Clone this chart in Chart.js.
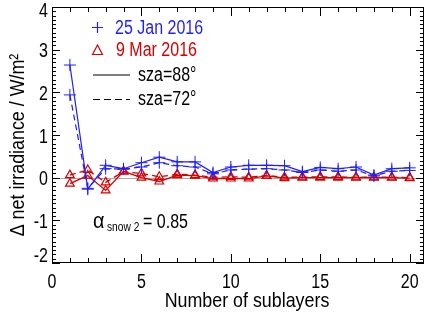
<!DOCTYPE html>
<html>
<head>
<meta charset="utf-8">
<script src="https://cdn.jsdelivr.net/npm/chart.js@4.4.1/dist/chart.umd.min.js"></script>
<style>
  html, body { margin: 0; padding: 0; background: #fff; }
  #wrap { width: 431px; height: 315px; }
</style>
</head>
<body>
<div id="wrap"><canvas id="myChart" width="431" height="315"></canvas></div>
<script>
// datos
const layers = [1, 2, 3, 4, 5, 6, 7, 8, 9, 10, 11, 12, 13, 14, 15, 16, 17, 18, 19, 20];
const jan88 = [2.64, -0.27, 0.29, 0.21, 0.35, 0.48, 0.37, 0.37, 0.12, 0.25, 0.29, 0.29, 0.28, 0.14, 0.24, 0.21, 0.25, 0.06, 0.21, 0.23];
const jan72 = [1.94, -0.25, 0.21, 0.20, 0.25, 0.35, 0.28, 0.25, 0.09, 0.18, 0.20, 0.21, 0.18, 0.12, 0.18, 0.15, 0.18, 0.04, 0.15, 0.17];
const mar88 = [-0.14, 0.05, -0.30, 0.15, 0.00, -0.09, 0.06, 0.05, -0.02, -0.02, -0.02, 0.04, -0.01, 0.00, 0.00, 0.00, 0.00, 0.00, 0.00, -0.01];
const mar72 = [0.06, 0.18, -0.11, 0.14, 0.10, 0.02, 0.08, 0.06, 0.01, 0.02, 0.01, 0.05, 0.01, 0.01, 0.02, 0.02, 0.01, 0.01, 0.01, 0.00];
const yTicks = [-2, -1, 0, 1, 2, 3, 4];
const xTicks = [0, 5, 10, 15, 20];

const BLUE = "#1e1eff";
const RED = "#d80000";
const FONT = "'Liberation Sans', Arial, sans-serif";

function pts(vals) {
  return vals.map((v, i) => ({ x: layers[i], y: v }));
}

// texto estrecho (la figura original usa una letra condensada)
function txt(c, s, x, y, size, align, sx) {
  c.save();
  c.translate(x, y);
  c.scale(sx || 0.8, 1);
  c.font = size + "px " + FONT;
  c.textAlign = align || "left";
  c.textBaseline = "middle";
  c.fillText(s, 0, 0);
  c.restore();
}

// marco, marcas interiores, linea del cero, textos y leyenda
const decor = {
  id: "decor",
  beforeDatasetsDraw(chart) {
    const c = chart.ctx, a = chart.chartArea, y = chart.scales.y;
    c.save();
    c.strokeStyle = "#aaaaaa";
    c.lineWidth = 1;
    const y0 = Math.round(y.getPixelForValue(0)) + 0.5;
    c.beginPath(); c.moveTo(a.left, y0); c.lineTo(a.right, y0); c.stroke();
    c.restore();
  },
  afterDraw(chart) {
    const c = chart.ctx, a = chart.chartArea, xs = chart.scales.x, ys = chart.scales.y;
    c.save();
    c.strokeStyle = "#000";
    c.lineWidth = 1;
    c.strokeRect(a.left + 0.5, a.top + 0.5, a.right - a.left - 1, a.bottom - a.top - 1);
    c.beginPath();
    // x: mayor cada 5, menor cada 1
    for (let v = 0; v <= 20; v++) {
      const px = Math.round(xs.getPixelForValue(v)) + 0.5;
      const len = v % 5 === 0 ? 9 : 5;
      c.moveTo(px, a.bottom); c.lineTo(px, a.bottom - len);
      c.moveTo(px, a.top); c.lineTo(px, a.top + len);
    }
    // y: mayor cada 1, menor cada 0.1
    for (let k = -20; k <= 40; k++) {
      const py = Math.round(ys.getPixelForValue(k / 10)) + 0.5;
      const len = k % 10 === 0 ? 8 : 4;
      c.moveTo(a.left, py); c.lineTo(a.left + len, py);
      c.moveTo(a.right, py); c.lineTo(a.right - len, py);
    }
    c.stroke();

    // etiquetas de los ejes
    c.fillStyle = "#000";
    yTicks.forEach(v => {
      let py = ys.getPixelForValue(v) + 2;
      py = Math.min(Math.max(py, 11), 256);
      txt(c, String(v), a.left - 4, py, 20, "right");
    });
    xTicks.forEach(v => {
      txt(c, String(v), xs.getPixelForValue(v), 282, 20, "center");
    });

    // titulos de los ejes
    txt(c, "Number of sublayers", 247, 301, 21, "center", 0.85);
    c.save();
    c.translate(18, 145);
    c.rotate(-Math.PI / 2);
    txt(c, "Δ net irradiance / W/m²", 0, 0, 21, "center", 0.85);
    c.restore();

    // leyenda
    c.lineWidth = 1.2;
    c.strokeStyle = BLUE;
    c.beginPath(); c.moveTo(92, 27.5); c.lineTo(103, 27.5); c.moveTo(97.5, 22); c.lineTo(97.5, 33); c.stroke();
    c.fillStyle = BLUE;
    txt(c, "25 Jan 2016", 115, 28, 20);
    c.strokeStyle = RED;
    c.beginPath(); c.moveTo(97.5, 45); c.lineTo(102.5, 54.5); c.lineTo(92.5, 54.5); c.closePath(); c.stroke();
    c.fillStyle = RED;
    txt(c, "9 Mar 2016", 116, 50, 20);
    c.strokeStyle = "#000";
    c.fillStyle = "#000";
    c.lineWidth = 1.2;
    c.beginPath(); c.moveTo(93, 75); c.lineTo(130, 75); c.stroke();
    txt(c, "sza=88°", 138, 75, 20);
    c.setLineDash([7, 4]);
    c.beginPath(); c.moveTo(93, 99.5); c.lineTo(130, 99.5); c.stroke();
    c.setLineDash([]);
    txt(c, "sza=72°", 138, 99, 20);

    // anotacion del albedo
    txt(c, "α", 93, 222, 22, "left", 0.9);
    txt(c, "snow 2", 107, 228, 12, "left", 0.85);
    txt(c, "= 0.85", 143, 222, 20);
    c.restore();
  }
};

const ctx = document.getElementById("myChart").getContext("2d");

const chart = new Chart(ctx, {
  type: "line",
  data: {
    datasets: [
      { label: "25 Jan 2016 sza=88", data: pts(jan88), borderColor: BLUE, backgroundColor: BLUE,
        borderWidth: 1.2, pointStyle: "cross", pointRadius: 6, pointBorderWidth: 1 },
      { label: "25 Jan 2016 sza=72", data: pts(jan72), borderColor: BLUE, backgroundColor: BLUE,
        borderWidth: 1.2, borderDash: [6, 4], pointStyle: "cross", pointRadius: 6, pointBorderWidth: 1 },
      { label: "9 Mar 2016 sza=88", data: pts(mar88), borderColor: RED, backgroundColor: "rgba(0,0,0,0)",
        borderWidth: 1.3, pointStyle: "triangle", pointRadius: 5, pointBorderWidth: 1.2 },
      { label: "9 Mar 2016 sza=72", data: pts(mar72), borderColor: RED, backgroundColor: "rgba(0,0,0,0)",
        borderWidth: 1.3, borderDash: [6, 4], pointStyle: "triangle", pointRadius: 5, pointBorderWidth: 1.2 }
    ]
  },
  options: {
    responsive: false,
    animation: false,
    layout: { padding: { top: 2, right: 5, left: 0, bottom: 0 } },
    plugins: { legend: { display: false }, tooltip: { enabled: false } },
    elements: { line: { tension: 0 } },
    scales: {
      x: {
        type: "linear",
        min: 0,
        max: 20.8,
        afterBuildTicks: (s) => { s.ticks = xTicks.map(v => ({ value: v })); },
        ticks: { display: false },
        grid: { display: false, drawTicks: false },
        border: { display: false },
        afterFit: (s) => { s.height = 52; s.paddingLeft = 0; s.paddingRight = 0; }
      },
      y: {
        min: -2,
        max: 4,
        afterBuildTicks: (s) => { s.ticks = yTicks.map(v => ({ value: v })); },
        ticks: { display: false },
        grid: { display: false, drawTicks: false },
        border: { display: false },
        afterFit: (s) => { s.width = 52; s.paddingTop = 0; s.paddingBottom = 0; }
      }
    }
  },
  plugins: [decor]
});
</script>
</body>
</html>
